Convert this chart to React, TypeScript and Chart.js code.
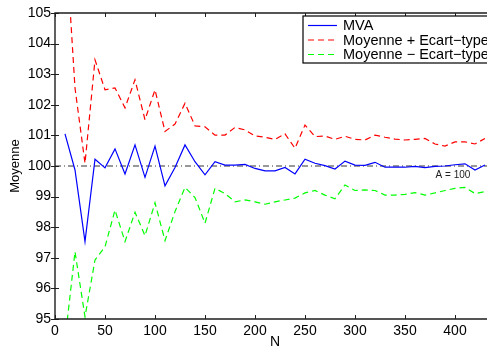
import { useEffect, useRef } from "react";
import { Chart, registerables } from "chart.js";

Chart.register(...registerables);

// Sample sizes N and the running statistics of the estimate
const sampleSizes = [
  10, 20, 30, 40, 50, 60, 70, 80, 90, 100, 110, 120, 130, 140, 150, 160, 170, 180, 190, 200, 210, 220,
  230, 240, 250, 260, 270, 280, 290, 300, 310, 320, 330, 340, 350, 360, 370, 380, 390, 400, 410, 420, 430,
];

const mvaValues = [
  101.05, 99.87, 97.53, 100.22, 99.94, 100.56, 99.74, 100.69, 99.63, 100.65, 99.35, 99.95, 100.69, 100.14,
  99.71, 100.14, 100.03, 100.03, 100.05, 99.92, 99.84, 99.84, 99.95, 99.74, 100.22, 100.09, 100.01, 99.9,
  100.16, 100.03, 100.02, 100.12, 99.96, 99.96, 99.96, 99.99, 99.95, 99.99, 100.0, 100.04, 100.07, 99.87,
  100.03,
];

const upperValues = [
  107.8, 102.55, 100.09, 103.47, 102.49, 102.55, 101.9, 102.82, 101.51, 102.49, 101.13, 101.37, 102.05,
  101.31, 101.28, 101.01, 101.01, 101.26, 101.18, 100.98, 100.94, 100.87, 101.05, 100.58, 101.34, 100.96,
  100.98, 100.87, 100.97, 100.87, 100.85, 101.01, 100.94, 100.88, 100.85, 100.87, 100.9, 100.72, 100.65,
  100.79, 100.79, 100.72, 100.9,
];

const lowerValues = [
  94.3, 97.2, 95.07, 96.93, 97.36, 98.56, 97.53, 98.49, 97.72, 98.8, 97.56, 98.51, 99.3, 98.97, 98.13,
  99.27, 99.1, 98.83, 98.89, 98.83, 98.75, 98.83, 98.89, 98.95, 99.12, 99.2, 99.05, 98.93, 99.38, 99.2,
  99.22, 99.2, 99.05, 99.05, 99.07, 99.13, 99.05, 99.12, 99.2, 99.27, 99.3, 99.1, 99.16,
];

const referenceValue = 100;
const referenceLabel = "A = 100";
const seriesLabels = ["MVA", "Moyenne + Ecart\u2212type", "Moyenne \u2212 Ecart\u2212type"];
const xTickValues = [0, 50, 100, 150, 200, 250, 300, 350, 400];
const yTickValues = [95, 96, 97, 98, 99, 100, 101, 102, 103, 104, 105];
const xRange = [0, 440];
const yRange = [95, 105];

const FONT = '"Liberation Sans", Arial, Helvetica, sans-serif';
const seriesColors = ["#0000ff", "#ff0000", "#00ff00"];
const seriesDashes: number[][] = [[], [6, 4], [6, 4]];
const referenceDash = [6, 3, 1, 3];

const toPoints = (ys: number[]) => sampleSizes.map((n, i) => ({ x: n, y: ys[i] }));

// Draws the axes box with inward ticks, the legend box and the reference label
const framePlugin = {
  id: "frameAndLegend",
  afterDatasetsDraw(chart: any) {
    const { ctx, chartArea: a, scales } = chart;
    const xs = scales.x;
    const ys = scales.y;
    ctx.save();
    ctx.strokeStyle = "#1e1e1e";
    ctx.lineWidth = 1.4;
    ctx.beginPath();
    ctx.moveTo(a.right, a.top);
    ctx.lineTo(a.left, a.top);
    ctx.lineTo(a.left, a.bottom);
    ctx.lineTo(a.right, a.bottom);
    ctx.lineTo(a.right, a.top);
    ctx.stroke();

    ctx.lineWidth = 1;
    ctx.beginPath();
    for (const v of xTickValues) {
      const px = Math.round(xs.getPixelForValue(v)) + 0.5;
      ctx.moveTo(px, a.bottom);
      ctx.lineTo(px, a.bottom - 4);
      ctx.moveTo(px, a.top);
      ctx.lineTo(px, a.top + 4);
    }
    for (const v of yTickValues) {
      const py = Math.round(ys.getPixelForValue(v)) + 0.5;
      ctx.moveTo(a.left - 4, py);
      ctx.lineTo(a.left + 4, py);
      ctx.moveTo(a.right - 4, py);
      ctx.lineTo(a.right, py);
    }
    ctx.stroke();

    // reference label
    ctx.fillStyle = "#222";
    ctx.font = `10px ${FONT}`;
    ctx.textAlign = "center";
    ctx.textBaseline = "middle";
    ctx.fillText(referenceLabel, xs.getPixelForValue(398), ys.getPixelForValue(99.69));

    // legend
    const lx = 303;
    const ly = 16;
    ctx.fillStyle = "#ffffff";
    ctx.fillRect(lx, ly, 220, 47);
    ctx.strokeStyle = "#000";
    ctx.lineWidth = 1.2;
    ctx.strokeRect(lx, ly, 220, 47);
    ctx.font = `14.5px ${FONT}`;
    ctx.textAlign = "left";
    ctx.textBaseline = "middle";
    seriesLabels.forEach((label, i) => {
      const ry = ly + 9.5 + i * 14.5;
      ctx.strokeStyle = seriesColors[i];
      ctx.lineWidth = 1.2;
      ctx.setLineDash(seriesDashes[i]);
      ctx.beginPath();
      ctx.moveTo(lx + 5, ry);
      ctx.lineTo(lx + 34, ry);
      ctx.stroke();
      ctx.setLineDash([]);
      ctx.fillStyle = "#000";
      ctx.fillText(label, lx + 40, ry + 0.5);
    });
    ctx.restore();
  },
};

export default function App() {
  const canvasRef = useRef<HTMLCanvasElement | null>(null);

  useEffect(() => {
    const canvas = canvasRef.current;
    if (!canvas) return;
    const line = (i: number, ys: number[]) => ({
      label: seriesLabels[i],
      data: toPoints(ys),
      borderColor: seriesColors[i],
      backgroundColor: seriesColors[i],
      borderWidth: 1.2,
      borderDash: seriesDashes[i],
      pointRadius: 0,
      tension: 0,
      fill: false,
      clip: 0,
    });
    const chart = new Chart(canvas, {
      type: "line",
      data: {
        datasets: [
          line(0, mvaValues),
          line(1, upperValues),
          line(2, lowerValues),
          {
            label: referenceLabel,
            data: [
              { x: xRange[0], y: referenceValue },
              { x: xRange[1], y: referenceValue },
            ],
            borderColor: "#333",
            borderWidth: 1,
            borderDash: referenceDash,
            pointRadius: 0,
            fill: false,
            clip: 0,
          },
        ],
      },
      options: {
        responsive: false,
        animation: false,
        events: [],
        layout: { padding: { top: 13, left: 0, right: 10, bottom: 0 } },
        plugins: {
          legend: { display: false },
          tooltip: { enabled: false },
        },
        scales: {
          x: {
            type: "linear",
            min: xRange[0],
            max: xRange[1],
            grid: { display: false, drawTicks: false },
            border: { display: false },
            afterBuildTicks: (s: any) => {
              s.ticks = xTickValues.map((v) => ({ value: v }));
            },
            afterFit: (s: any) => {
              s.height = 32;
            },
            ticks: {
              color: "#000",
              font: { family: FONT, size: 14 },
              padding: 4,
              maxRotation: 0,
              autoSkip: false,
            },
            title: {
              display: true,
              text: "N",
              color: "#000",
              font: { family: FONT, size: 14 },
              padding: { top: 0, bottom: 0 },
            },
          },
          y: {
            type: "linear",
            min: yRange[0],
            max: yRange[1],
            grid: { display: false, drawTicks: false },
            border: { display: false },
            afterBuildTicks: (s: any) => {
              s.ticks = yTickValues.map((v) => ({ value: v }));
            },
            afterFit: (s: any) => {
              s.width = 55;
            },
            ticks: {
              color: "#000",
              font: { family: FONT, size: 14 },
              padding: 4,
              autoSkip: false,
            },
            title: {
              display: true,
              text: "Moyenne",
              color: "#000",
              font: { family: FONT, size: 13 },
              padding: { top: 8, bottom: 0 },
            },
          },
        },
      },
      plugins: [framePlugin],
    });
    return () => chart.destroy();
  }, []);

  return (
    <div
      style={{
        position: "fixed",
        left: 0,
        top: 0,
        width: 487,
        height: 351,
        overflow: "hidden",
        background: "#fff",
      }}
    >
      <canvas ref={canvasRef} width={505} height={351} style={{ display: "block" }} />
    </div>
  );
}
